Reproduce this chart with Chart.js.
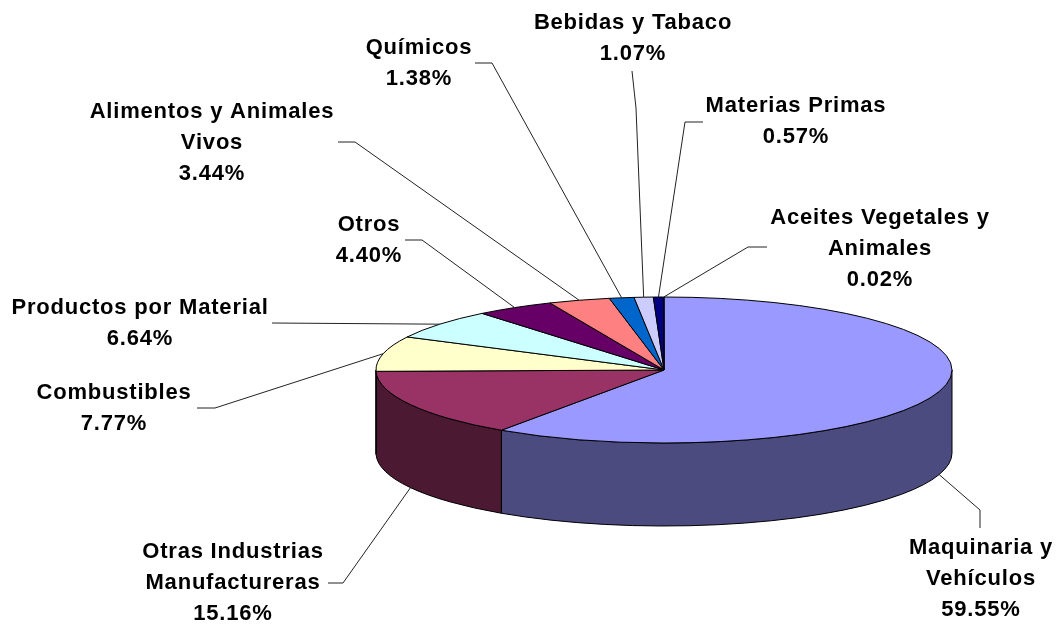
<!DOCTYPE html>
<html><head><meta charset="utf-8">
<script src="https://cdn.jsdelivr.net/npm/chart.js@4.4.1/dist/chart.umd.min.js"></script>
<style>html,body{margin:0;padding:0;background:#fff;}#wrap{width:1060px;height:627px;position:relative;}</style>
</head><body><div id="wrap"><canvas id="c" width="1060" height="627"></canvas></div>
<script>
// ---- data ----
const categories = ['Maquinaria y Vehículos', 'Otras Industrias Manufactureras', 'Combustibles', 'Productos por Material', 'Otros', 'Alimentos y Animales Vivos', 'Químicos', 'Bebidas y Tabaco', 'Materias Primas', 'Aceites Vegetales y Animales'];
const shares = [59.55, 15.16, 7.77, 6.64, 4.40, 3.44, 1.38, 1.07, 0.57, 0.02];
const labelLines = [['Maquinaria y', 'Vehículos'], ['Otras Industrias', 'Manufactureras'], ['Combustibles'], ['Productos por Material'], ['Otros'], ['Alimentos y Animales', 'Vivos'], ['Químicos'], ['Bebidas y Tabaco'], ['Materias Primas'], ['Aceites Vegetales y', 'Animales']];

// ---- styles ----
const topColors = ['#9999FF', '#993366', '#FFFFCC', '#CCFFFF', '#660066', '#FF8080', '#0066CC', '#CCCCFF', '#000080', '#FF00FF'];
const sideColors = ['#4B4B80', '#4C1933', '#80806A', '#6A8080', '#330033', '#804040', '#003366', '#6A6A80', '#000040', '#800080'];
const CY = 370, TILT = 73 / 288, DEPTH = 83;
// label layout: text centre x, first line centre y, leader points from the label towards the pie
const labelLayout = [
  { x: 981, y: 548, pts: [[980, 528], [980, 510]] },
  { x: 233, y: 552, pts: [[328, 583], [343, 583]] },
  { x: 114, y: 393, pts: [[197, 408], [215, 408]] },
  { x: 140, y: 308, pts: [[272, 323]] },
  { x: 369, y: 225, pts: [[405, 240], [422, 240]] },
  { x: 212, y: 112, pts: [[338, 142], [355, 142]] },
  { x: 419, y: 48,  pts: [[475, 63], [492, 63]] },
  { x: 633, y: 23,  pts: [[632, 71], [636, 108]] },
  { x: 796, y: 106, pts: [[703, 122], [685, 122]] },
  { x: 880, y: 218, pts: [[767, 247], [748, 247]] }
];
const LINE_H = 31;

const pie3d = {
  id: 'pie3d',
  beforeDatasetsDraw(chart) {
    const ctx = chart.ctx;
    const arcs = chart.getDatasetMeta(0).data;
    ctx.save();
    ctx.lineWidth = 1;
    ctx.strokeStyle = '#000';
    ctx.lineJoin = 'round';
    // side walls (front half only)
    arcs.forEach((el, i) => {
      const cx = el.x, rx = el.outerRadius, ry = rx * TILT;
      const a1 = Math.max(el.startAngle, 0), a2 = Math.min(el.endAngle, Math.PI);
      if (a2 <= a1) return;
      ctx.beginPath();
      ctx.ellipse(cx, CY, rx, ry, 0, a1, a2, false);
      ctx.lineTo(cx + rx * Math.cos(a2), CY + DEPTH + ry * Math.sin(a2));
      ctx.ellipse(cx, CY + DEPTH, rx, ry, 0, a2, a1, true);
      ctx.closePath();
      ctx.fillStyle = sideColors[i];
      ctx.fill();
      ctx.stroke();
    });
    // top faces
    arcs.forEach((el, i) => {
      const cx = el.x, rx = el.outerRadius, ry = rx * TILT;
      ctx.beginPath();
      ctx.moveTo(cx, CY);
      ctx.ellipse(cx, CY, rx, ry, 0, el.startAngle, el.endAngle, false);
      ctx.closePath();
      ctx.fillStyle = topColors[i];
      ctx.fill();
      ctx.stroke();
    });
    // leader lines and labels
    ctx.font = 'bold 22px "Liberation Sans", Arial, sans-serif';
    ctx.letterSpacing = '0.8px';
    ctx.textAlign = 'center';
    ctx.textBaseline = 'middle';
    ctx.fillStyle = '#000';
    arcs.forEach((el, i) => {
      const cx = el.x, rx = el.outerRadius, ry = rx * TILT;
      const mid = (el.startAngle + el.endAngle) / 2;
      let px = cx + rx * Math.cos(mid), py = CY + ry * Math.sin(mid);
      if (Math.sin(mid) > 0.05) py += DEPTH;
      const L = labelLayout[i];
      ctx.beginPath();
      ctx.moveTo(L.pts[0][0], L.pts[0][1]);
      for (let k = 1; k < L.pts.length; k++) ctx.lineTo(L.pts[k][0], L.pts[k][1]);
      ctx.lineTo(px, py);
      ctx.strokeStyle = '#222';
      ctx.stroke();
      const lines = labelLines[i].concat([shares[i].toFixed(2) + '%']);
      lines.forEach((t, k) => ctx.fillText(t, L.x, L.y + k * LINE_H));
    });
    ctx.restore();
    return false;
  }
};

new Chart(document.getElementById('c'), {
  type: 'pie',
  data: { labels: categories, datasets: [{ data: shares, backgroundColor: topColors, borderWidth: 0 }] },
  options: {
    responsive: false,
    animation: false,
    layout: { padding: { left: 376, right: 108, top: 0, bottom: 51 } },
    plugins: { legend: { display: false }, tooltip: { enabled: false } }
  },
  plugins: [pie3d]
});
</script></body></html>
